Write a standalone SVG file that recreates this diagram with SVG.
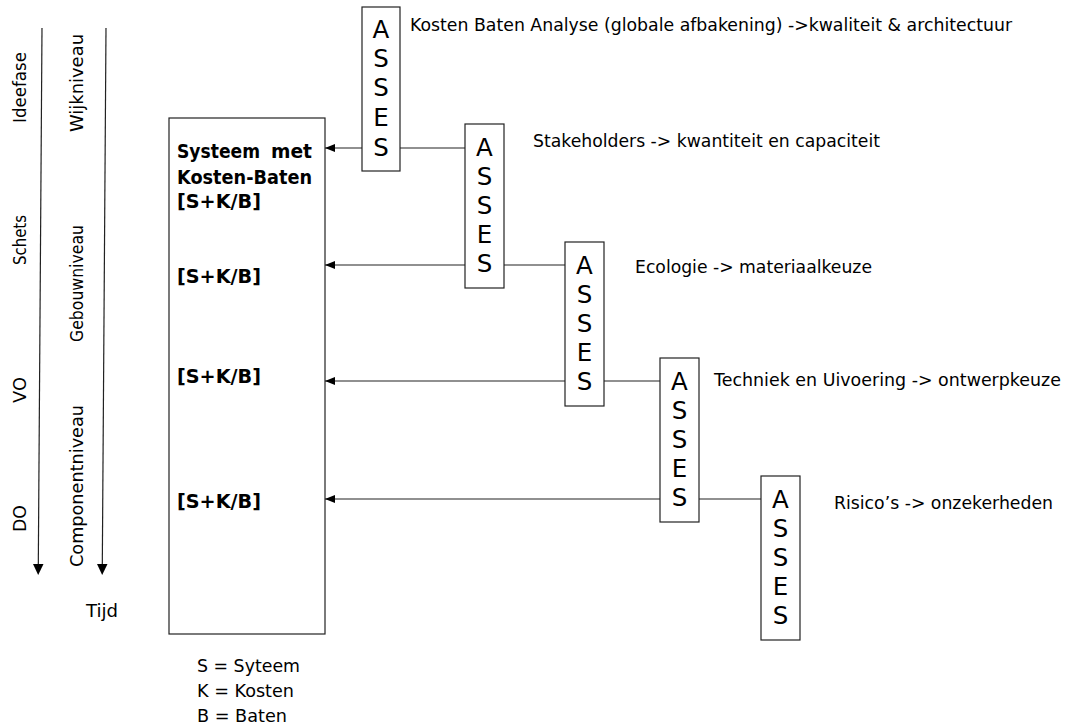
<svg xmlns="http://www.w3.org/2000/svg" width="1066" height="725" viewBox="0 0 1066 725">
<defs>
<marker id="ah" viewBox="0 0 10 8" refX="10" refY="4" markerWidth="10" markerHeight="8" markerUnits="userSpaceOnUse" orient="auto">
<path d="M0,0 L10,4 L0,8 Z" fill="#000"/>
</marker>
<style>
text{font-family:"DejaVu Sans","Liberation Sans",sans-serif;fill:#000}
.lbl{font-size:18.5px}
.sm{font-size:17px}
.b{font-size:19.5px;font-weight:bold}
.letter{font-size:24.5px;text-anchor:middle}
.box{fill:#fff;stroke:#222;stroke-width:1.2}
.ln{stroke:#222;stroke-width:1.2;fill:none}
</style>
</defs>
<rect width="1066" height="725" fill="#fff"/>

<g id="timeline">
<line class="ln" x1="42" y1="28" x2="38.3" y2="565" />
<path d="M33,564 L43.5,564 L38.2,575 Z" fill="#000"/>
<line class="ln" x1="106" y1="28" x2="102.3" y2="565" />
<path d="M97,564 L107.5,564 L102.2,575 Z" fill="#000"/>
<text class="lbl" transform="translate(26,123) rotate(-90)" textLength="71" lengthAdjust="spacingAndGlyphs">Ideefase</text>
<text class="lbl" transform="translate(26,265) rotate(-90)" textLength="50" lengthAdjust="spacingAndGlyphs">Schets</text>
<text class="lbl" transform="translate(26,403) rotate(-90)" textLength="26" lengthAdjust="spacingAndGlyphs">VO</text>
<text class="lbl" transform="translate(26,532) rotate(-90)" textLength="27" lengthAdjust="spacingAndGlyphs">DO</text>
<text class="lbl" transform="translate(83,132) rotate(-90)" textLength="98" lengthAdjust="spacingAndGlyphs">Wijkniveau</text>
<text class="lbl" transform="translate(83,342) rotate(-90)" textLength="117" lengthAdjust="spacingAndGlyphs">Gebouwniveau</text>
<text class="lbl" transform="translate(83,567) rotate(-90)" textLength="162" lengthAdjust="spacingAndGlyphs">Componentniveau</text>
<text class="lbl" x="86" y="617" textLength="32" lengthAdjust="spacingAndGlyphs">Tijd</text>
</g>

<g id="system">
<rect class="box" x="169" y="118" width="156" height="516"/>
<text class="b" x="177" y="158" textLength="83" lengthAdjust="spacingAndGlyphs">Systeem</text>
<text class="b" x="312" y="158" text-anchor="end" textLength="41" lengthAdjust="spacingAndGlyphs">met</text>
<text class="b" x="177" y="184" textLength="135" lengthAdjust="spacingAndGlyphs">Kosten-Baten</text>
<text class="b" x="177" y="208" textLength="84" lengthAdjust="spacingAndGlyphs">[S+K/B]</text>
<text class="b" x="177" y="283" textLength="84" lengthAdjust="spacingAndGlyphs">[S+K/B]</text>
<text class="b" x="177" y="383" textLength="84" lengthAdjust="spacingAndGlyphs">[S+K/B]</text>
<text class="b" x="177" y="508" textLength="84" lengthAdjust="spacingAndGlyphs">[S+K/B]</text>
</g>

<g id="legend">
<text class="lbl" x="197" y="672" textLength="103" lengthAdjust="spacingAndGlyphs">S = Syteem</text>
<text class="lbl" x="197" y="697" textLength="97" lengthAdjust="spacingAndGlyphs">K = Kosten</text>
<text class="lbl" x="197" y="722" textLength="90" lengthAdjust="spacingAndGlyphs">B = Baten</text>
</g>

<g id="connectors">
<line class="ln" x1="362" y1="148" x2="325" y2="148" marker-end="url(#ah)"/>
<line class="ln" x1="400" y1="148" x2="465" y2="148"/>
<line class="ln" x1="465" y1="265" x2="325" y2="265" marker-end="url(#ah)"/>
<line class="ln" x1="504" y1="265" x2="565" y2="265"/>
<line class="ln" x1="565" y1="381" x2="325" y2="381" marker-end="url(#ah)"/>
<line class="ln" x1="604" y1="381" x2="660" y2="381"/>
<line class="ln" x1="660" y1="499" x2="325" y2="499" marker-end="url(#ah)"/>
<line class="ln" x1="699" y1="499" x2="761" y2="499"/>
</g>

<g id="asses1">
<rect class="box" x="362" y="7" width="38" height="164"/>
<text class="letter" x="381" y="38">A</text><text class="letter" x="381" y="67">S</text><text class="letter" x="381" y="96">S</text><text class="letter" x="381" y="126">E</text><text class="letter" x="381" y="156">S</text>
<text class="lbl" x="410" y="31" textLength="602" lengthAdjust="spacingAndGlyphs">Kosten Baten Analyse (globale afbakening) -&gt;kwaliteit &amp; architectuur</text>
</g>
<g id="asses2">
<rect class="box" x="465" y="124" width="39" height="164"/>
<text class="letter" x="484.5" y="156">A</text><text class="letter" x="484.5" y="185">S</text><text class="letter" x="484.5" y="214">S</text><text class="letter" x="484.5" y="243">E</text><text class="letter" x="484.5" y="272">S</text>
<text class="lbl" x="533" y="147" textLength="347" lengthAdjust="spacingAndGlyphs">Stakeholders -&gt; kwantiteit en capaciteit</text>
</g>
<g id="asses3">
<rect class="box" x="565" y="242" width="39" height="164"/>
<text class="letter" x="584.5" y="274">A</text><text class="letter" x="584.5" y="303">S</text><text class="letter" x="584.5" y="332">S</text><text class="letter" x="584.5" y="361">E</text><text class="letter" x="584.5" y="390">S</text>
<text class="lbl" x="635" y="273" textLength="237" lengthAdjust="spacingAndGlyphs">Ecologie -&gt; materiaalkeuze</text>
</g>
<g id="asses4">
<rect class="box" x="660" y="358" width="39" height="164"/>
<text class="letter" x="679.5" y="390">A</text><text class="letter" x="679.5" y="419">S</text><text class="letter" x="679.5" y="448">S</text><text class="letter" x="679.5" y="477">E</text><text class="letter" x="679.5" y="506">S</text>
<text class="sm" x="714" y="386" textLength="347" lengthAdjust="spacingAndGlyphs">Techniek en Uivoering -&gt; ontwerpkeuze</text>
</g>
<g id="asses5">
<rect class="box" x="761" y="476" width="39" height="164"/>
<text class="letter" x="780.5" y="508">A</text><text class="letter" x="780.5" y="537">S</text><text class="letter" x="780.5" y="566">S</text><text class="letter" x="780.5" y="595">E</text><text class="letter" x="780.5" y="624">S</text>
<text class="sm" x="834" y="509" textLength="219" lengthAdjust="spacingAndGlyphs">Risico’s -&gt; onzekerheden</text>
</g>
</svg>
